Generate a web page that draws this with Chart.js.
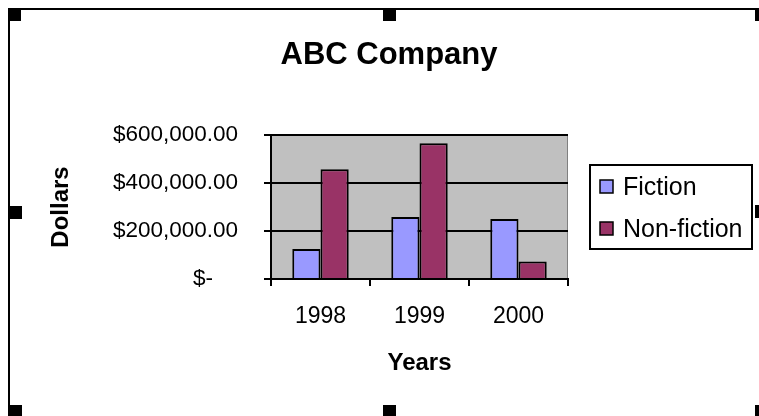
<!DOCTYPE html>
<html>
<head>
<meta charset="utf-8">
<title>ABC Company</title>
<script src="https://cdn.jsdelivr.net/npm/chart.js@4.4.0/dist/chart.umd.min.js"></script>
<style>
    html, body { margin: 0; padding: 0; background: #fff; }
</style>
</head>
<body>
<canvas id="myChart" width="759" height="416"></canvas>
<script>
// Sales per year, split by book type
let years = ["1998", "1999", "2000"];
let fictionSales = [125000, 258000, 250000];
let nonFictionSales = [457000, 566000, 73000];
let yTickLabels = ["$-", "$200,000.00", "$400,000.00", "$600,000.00"];
let chartTitle = "ABC Company";

let fictionColor = "#9999FF";
let nonFictionColor = "#993366";
let fontFamily = "'Liberation Sans', Arial, sans-serif";

Chart.defaults.font.family = fontFamily;
Chart.defaults.color = "#000";

// Grey fill behind the bars
let plotBackground = {
    id: "plotBackground",
    beforeDraw: (chart) => {
        const {ctx, chartArea: a} = chart;
        ctx.save();
        ctx.fillStyle = "#C0C0C0";
        ctx.fillRect(a.left, a.top, a.right - a.left, a.bottom - a.top);
        ctx.fillStyle = "#808080";
        ctx.fillRect(a.right - 1, a.top, 1, a.bottom - a.top);
        ctx.restore();
    }
};

// Title centred over the whole chart object, plot + legend
let chartHeading = {
    id: "chartHeading",
    afterDraw: (chart) => {
        const ctx = chart.ctx;
        ctx.save();
        ctx.font = "bold 31px " + fontFamily;
        ctx.fillStyle = "#000";
        ctx.textAlign = "center";
        ctx.textBaseline = "middle";
        ctx.fillText(chartTitle, 389, 55);
        ctx.restore();
    }
};

// Boxed legend to the right of the plot
let boxedLegend = {
    id: "boxedLegend",
    afterDraw: (chart) => {
        const {ctx, chartArea: a} = chart;
        const left = a.right + 22;
        const top = Math.round((a.top + a.bottom) / 2) - 42;
        ctx.save();
        ctx.strokeStyle = "#000";
        ctx.lineWidth = 2;
        ctx.strokeRect(left, top, 162, 84);
        ctx.font = "25px " + fontFamily;
        ctx.textBaseline = "middle";
        chart.data.datasets.forEach((ds, i) => {
            const cy = top + 22 + i * 42;
            ctx.fillStyle = ds.backgroundColor;
            ctx.fillRect(left + 10, cy - 7, 13, 13);
            ctx.lineWidth = 1.5;
            ctx.strokeRect(left + 10, cy - 7, 13, 13);
            ctx.fillStyle = "#000";
            ctx.fillText(ds.label, left + 33, cy + 1);
        });
        ctx.restore();
    }
};

// Selection frame with its handles
let selectionFrame = {
    id: "selectionFrame",
    afterDraw: (chart) => {
        const ctx = chart.ctx;
        ctx.save();
        ctx.fillStyle = "#000";
        ctx.fillRect(8, 8, 751, 2);
        ctx.fillRect(8, 8, 2, 408);
        [[8, 8], [383, 8], [755, 8], [9, 206], [755, 205], [9, 405], [383, 405], [755, 405]]
            .forEach(([x, y]) => ctx.fillRect(x, y, 13, 13));
        ctx.restore();
    }
};

const ctx = document.getElementById("myChart").getContext("2d");
let myChart = new Chart(ctx, {
    type: "bar",
    data: {
        labels: years,
        datasets: [{
            label: "Fiction",
            data: fictionSales,
            backgroundColor: fictionColor,
            borderColor: "#000",
            borderWidth: 2
        }, {
            label: "Non-fiction",
            data: nonFictionSales,
            backgroundColor: nonFictionColor,
            borderColor: "#000",
            borderWidth: 2
        }]
    },
    options: {
        responsive: false,
        animation: false,
        devicePixelRatio: 1,
        categoryPercentage: 0.57,
        barPercentage: 1,
        layout: { padding: { top: 135, right: 191, bottom: 0, left: 0 } },
        plugins: {
            legend: { display: false },
            tooltip: { enabled: false },
            title: { display: false }
        },
        scales: {
            x: {
                grid: { drawOnChartArea: false, drawTicks: true, tickLength: 7, color: "#000", lineWidth: 2, offset: true },
                border: { display: true, color: "#000", width: 2 },
                ticks: { color: "#000", font: { size: 23 }, padding: 17 },
                title: {
                    display: true,
                    text: "Years",
                    color: "#000",
                    font: { size: 24, weight: "bold" },
                    padding: { top: 0, bottom: 38.6 }
                },
                afterFit: (scale) => { scale.height = 137; }
            },
            y: {
                min: 0,
                max: 600000,
                grid: { color: "#000", lineWidth: 2, tickLength: 7, drawTicks: true },
                border: { display: true, color: "#000", width: 2 },
                ticks: {
                    stepSize: 200000,
                    color: "#000",
                    font: { size: 22.5 },
                    padding: 26,
                    callback: (value, index) => {
                        let label = yTickLabels[index];
                        // the dash sits under the cents, like accounting format
                        return value === 0 ? label + "    " : label;
                    }
                },
                title: {
                    display: true,
                    text: "Dollars",
                    color: "#000",
                    font: { size: 24, weight: "bold" },
                    padding: { top: 46.6, bottom: 0 }
                },
                afterFit: (scale) => { scale.width = 271; }
            }
        }
    },
    plugins: [plotBackground, chartHeading, boxedLegend, selectionFrame]
});
</script>
</body>
</html>
